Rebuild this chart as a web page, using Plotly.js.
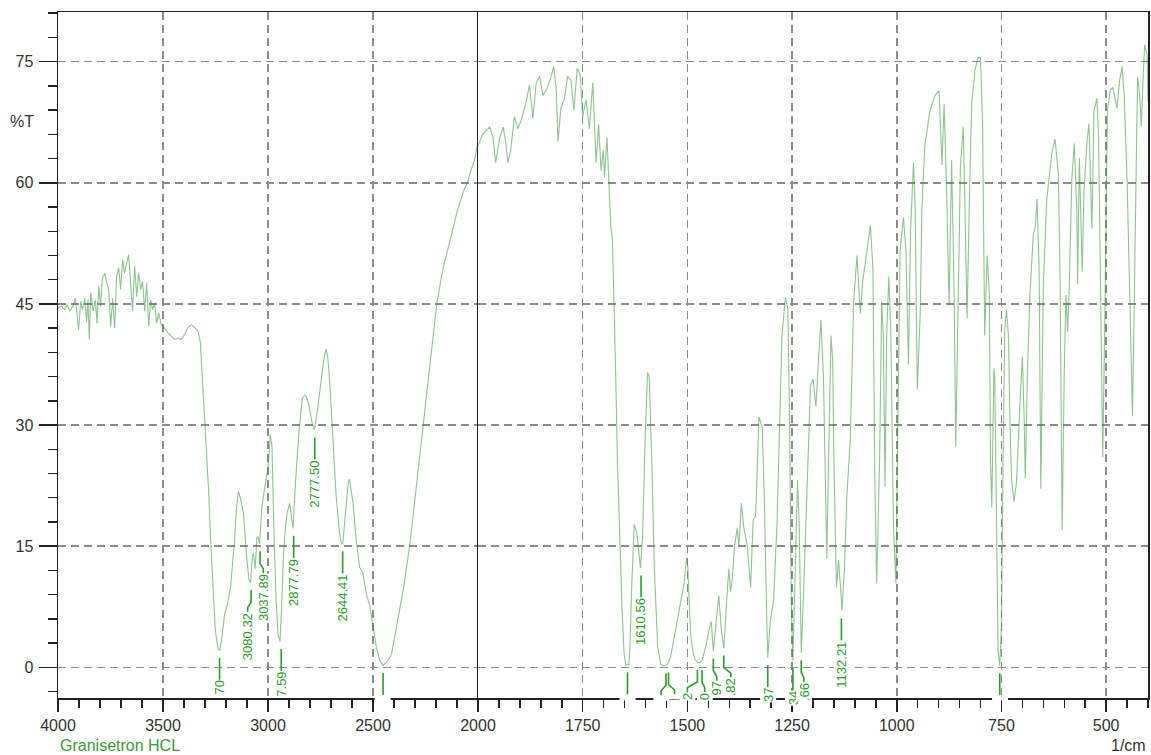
<!DOCTYPE html>
<html><head><meta charset="utf-8">
<script src="https://cdn.plot.ly/plotly-3.0.1.min.js"></script>
<style>html,body{margin:0;padding:0;background:#fff;}#chart{width:1151px;height:755px;}</style>
</head><body><div id="chart"></div>
<script>
// ---- DATA (wavenumber in 1/cm, transmittance in %T) ----
const specWn = [4000,3984,3968,3956,3944,3929,3917,3908,3902,3892,3883,3873,3864,3857,3851,3844,3833,3822,3814,3806,3797,3789,3778,3768,3759,3749,3740,3730,3721,3711,3702,3692,3683,3673,3664,3654,3645,3635,3625,3616,3606,3597,3587,3578,3568,3559,3549,3540,3530,3521,3508,3492,3476,3460,3445,3429,3413,3397,3381,3365,3349,3333,3322,3314,3305,3294,3283,3273,3262,3251,3238,3230,3219,3206,3194,3178,3159,3151,3141,3130,3117,3101,3090,3083,3074,3069,3061,3053,3048,3040,3029,3013,3000,2989,2981,2973,2962,2952,2943,2935,2927,2918,2909,2897,2888,2881,2869,2853,2837,2825,2817,2804,2788,2779,2764,2748,2735,2724,2716,2708,2692,2676,2660,2650,2644,2636,2628,2618,2612,2604,2596,2580,2564,2548,2532,2516,2500,2484,2468,2452,2436,2424,2412,2388,2356,2324,2292,2260,2228,2196,2180,2163,2131,2099,2067,2050,2035,2015,2003,2000,
1988,1972,1964,1958,1948,1940,1934,1929,1922,1913,1905,1897,1886,1877,1869,1861,1853,1845,1836,1828,1819,1813,1809,1802,1794,1786,1778,1771,1763,1756,1750,1742,1734,1726,1718,1712,1706,1701,1698,1692,1687,1683,1679,1675,1671,1667,1663,1656,1651,1647,1640,1637,1633,1627,1621,1614,1612,1607,1601,1595,1591,1585,1579,1571,1563,1555,1548,1540,1528,1516,1508,1502,1499,1496,1492,1487,1482,1476,1470,1464,1456,1448,1443,1438,1430,1425,1419,1413,1406,1401,1397,1393,1387,1381,1377,1371,1365,1357,1349,1343,1337,1333,1329,1321,1316,1311,1308,1302,1294,1286,1279,1274,1266,1260,1256,1252,1248,1243,1237,1233,1228,1222,1214,1206,1200,1193,1187,1181,1175,1167,1161,1157,1153,1150,1144,1139,1133,1131,1125,1119,1111,1103,1095,1087,1081,1071,1063,1057,1052,1048,1041,1036,1032,1028,1024,1019,1014,1008,1002,996,992,984,978,972,967,960,956,951,944,940,933,921,909,899,895,892,887,881,875,869,863,859,853,848,841,837,832,827,821,813,806,800,795,790,784,779,776,773,768,766,762,758,754,750,746,742,738,733,730,726,720,714,706,700,696,693,688,682,674,669,665,660,656,650,642,630,622,614,610,605,600,596,592,588,582,576,570,568,564,560,557,553,546,541,537,534,529,522,518,513,508,502,497,490,484,481,474,468,462,457,450,444,440,437,433,428,425,420,416,412,408,402,400];
const specT = [44.5,44.7,44.3,44.9,44.1,44.7,45.7,43.1,41.8,45.3,44.3,45.7,42.8,45.5,40.6,46.4,44.1,45.5,42.6,47.2,44.7,48.2,48.8,47.6,46.8,42.2,45.7,42.0,48.4,49.5,46.8,50.5,48.8,50.1,51.1,47.6,44.1,49.7,45.9,48.8,46.8,47.8,44.1,47.6,42.2,45.5,44.3,45.1,42.6,43.9,42.4,42.0,41.4,41.0,40.6,40.8,40.6,41.2,42.1,42.4,42.1,41.6,40.2,36.4,32.3,28.2,22.0,15.8,9.6,4.6,2.3,2.1,3.8,6.7,7.7,10.0,15.8,19.5,21.8,20.8,19.1,13.4,10.8,10.5,13.9,14.1,12.2,16.0,16.2,15.3,20.0,22.9,24.8,28.8,27.4,18.1,8.7,4.0,3.2,7.5,13.5,17.0,19.1,20.3,18.1,17.2,22.9,29.0,33.3,33.7,33.5,32.3,30.0,29.4,31.9,35.2,38.0,39.4,38.5,36.1,28.5,21.4,16.7,15.3,15.3,17.5,20.0,22.8,23.3,22.0,20.5,15.8,12.4,11.7,9.1,7.7,4.9,2.5,0.85,0.24,0.6,1.0,1.6,4.9,9.6,15.3,22.9,30.0,38.0,45.1,47.5,49.8,53.1,56.5,59.1,60.0,61.4,63.0,64.7,64.6,
66.1,66.9,65.6,62.5,65.6,66.9,65.1,62.5,64.0,68.2,66.7,67.7,69.8,72.1,68.0,72.4,73.2,70.8,71.6,72.7,74.4,71.4,65.1,69.3,70.3,73.2,72.7,69.0,74.2,73.4,68.2,70.3,66.7,72.4,62.5,67.2,61.5,64.1,60.7,65.6,60.4,54.7,53.1,45.3,35.9,25.5,17.7,7.3,1.6,0.3,0.3,2.6,9.9,17.7,16.7,12.5,12.3,16.1,28.1,36.5,35.9,25.5,12.5,2.6,0.3,0.2,0.3,1.3,4.7,8.3,10.4,13.6,12.5,8.5,4.0,2.0,1.0,0.6,0.6,1.0,2.6,4.7,5.7,2.0,6.3,8.9,4.7,2.4,8.3,12.2,9.4,10.9,15.1,17.2,15.1,20.3,17.2,15.1,9.9,18.2,18.8,25.5,31.0,29.7,20.3,7.3,1.2,5.7,8.3,17.7,30.7,41.1,45.8,44.3,30.7,8.0,0.8,9.9,23.2,17.7,1.8,9.9,22.9,34.9,35.7,32.3,38.0,43.0,35.9,13.5,30.7,41.1,38.0,25.5,9.9,13.3,9.0,7.0,12.0,21.4,28.1,45.3,51.0,43.8,47.9,51.6,54.7,49.5,22.0,10.4,25.5,45.3,41.1,22.4,41.1,48.4,41.1,17.7,10.4,35.9,51.6,55.7,51.6,37.5,54.2,62.5,56.8,34.4,43.8,56.8,64.6,68.8,70.8,71.4,67.2,62.2,69.8,59.4,44.8,62.8,46.4,27.3,46.4,62.0,66.9,56.8,43.2,56.8,69.8,74.0,75.5,75.5,67.2,41.1,51.0,46.4,25.5,19.8,37.0,36.0,17.7,2.1,0.2,5.0,26.0,41.9,44.3,40.8,31.3,23.4,20.5,22.9,32.4,38.5,31.3,23.4,36.6,46.1,53.5,54.6,58.0,49.3,22.1,47.2,57.8,63.6,65.4,61.0,48.3,17.0,36.6,46.1,41.6,47.2,60.4,64.9,56.7,47.5,63.1,56.2,49.0,58.8,64.9,67.3,60.4,54.3,68.9,70.5,65.7,47.2,26.0,47.2,68.9,71.5,71.8,71.0,69.2,72.6,74.4,71.0,60.4,47.2,36.6,31.1,44.6,63.1,73.1,71.0,67.0,72.6,77.1,75.8,70.0];

// peak picks (wavenumber) and the part of each label that is visible in the chart
const peakWn = [3230.70,3080.32,3037.89,2937,2877.79,2777.50,2644.41,2452,1643,1610.56,1551,1545,1476,1465,1438,1413,1308,1248,1228,1132.21,754];
const peakLabel = ["70","3080.32","3037.89","7.59","2877.79","2777.50","2644.41","","","1610.56","","","2","0","97",".82","37","34",".66","1132.21",""];

const xTickLeft = [4000,3500,3000,2500,2000];
const xTickRight = [1750,1500,1250,1000,750,500];
const xRangeLeft = [4000,2000];
const xRangeRight = [2000,400];
const yRange = [-3.8,81.15];

// ---- STYLE / LAYOUT CONSTANTS ----
const W=1151, H=755, M={l:58,r:3,t:12,b:57};
const plotW = W-M.l-M.r, plotH = H-M.t-M.b;
const split = 420/plotW;
const pxPerT = plotH/(yRange[1]-yRange[0]);
const pxPerWnL = plotW*split/(xRangeLeft[0]-xRangeLeft[1]);
const pxPerWnR = plotW*(1-split)/(xRangeRight[0]-xRangeRight[1]);
const labelShiftPx = [0,-3.5,3.3,0,0,0,0,0,0,0,-5,6,-10,2.7,3.4,7,0,0,2.6,0,0];
const MARK = {gapPx:7.5, lenPx:22, color:'#2a9d2a'};
const FONT = 'Liberation Sans, Arial, sans-serif';
const GRID = {gridcolor:'#8c8c8c', gridwidth:1.5, griddash:'8px,5px'};
const LINE = {showline:true, linecolor:'#222', linewidth:1.5};

function localMin(w){
  let best=null;
  for(let i=0;i<specWn.length;i++){
    if(Math.abs(specWn[i]-w)<=6 && (best===null || specT[i]<best)) best=specT[i];
  }
  if(best===null){
    for(let i=0;i<specWn.length-1;i++){
      const a=specWn[i], b=specWn[i+1];
      if((a-w)*(b-w)<=0){ best=specT[i]+(specT[i+1]-specT[i])*(w-a)/(b-a); break; }
    }
  }
  return best;
}

const L={x:[],y:[]}, R={x:[],y:[]};
specWn.forEach((w,i)=>{
  if(w>=2000){L.x.push(w);L.y.push(specT[i]);}
  if(w<=2000){R.x.push(w);R.y.push(specT[i]);}
});

const mL={x:[],y:[]}, mR={x:[],y:[]};
const annotations=[];
const gapT = MARK.gapPx/pxPerT, lenT = MARK.lenPx/pxPerT;
peakWn.forEach((w,i)=>{
  const left = w>2000;
  const ppw = left?pxPerWnL:pxPerWnR;
  const t0 = localMin(w);
  const top = t0-gapT, bot = top-lenT;
  const sw = w - labelShiftPx[i]/ppw;
  const m = left?mL:mR;
  m.x.push(w,w,sw,sw,null);
  m.y.push(top, top-0.55*lenT, top-0.8*lenT, bot, null);
  annotations.push({x:sw, y:bot, xref:left?'x':'x2', yref:left?'y':'y2',
    text:peakLabel[i]||' ', textangle:-90, showarrow:false, xanchor:'center', yanchor:'top',
    font:{family:FONT,size:13,color:MARK.color}, bgcolor:'rgba(255,255,255,1)', borderpad:0});
});

annotations.push({xref:'paper',yref:'paper',x:(22-M.l)/plotW,y:(H-M.b-122)/plotH,text:'%T',showarrow:false,
  xanchor:'center',yanchor:'middle',font:{family:FONT,size:16,color:'#333'}});
annotations.push({xref:'paper',yref:'paper',x:0,y:-(745-(H-M.b))/plotH,text:'Granisetron HCL',showarrow:false,
  xanchor:'left',yanchor:'middle',font:{family:FONT,size:16,color:'#3a9a3a'}});
annotations.push({xref:'paper',yref:'paper',x:1,y:-(745-(H-M.b))/plotH,text:'1/cm',showarrow:false,
  xanchor:'right',yanchor:'middle',font:{family:FONT,size:16,color:'#333'}});

const lineStyle = {color:'rgba(50,150,50,0.55)', width:1.1};
const traces = [
  {x:L.x,y:L.y,xaxis:'x',yaxis:'y',mode:'lines',line:lineStyle,hoverinfo:'skip'},
  {x:R.x,y:R.y,xaxis:'x2',yaxis:'y2',mode:'lines',line:lineStyle,hoverinfo:'skip'},
  {x:mL.x,y:mL.y,xaxis:'x',yaxis:'y',mode:'lines',line:{color:MARK.color,width:1.6},hoverinfo:'skip'},
  {x:mR.x,y:mR.y,xaxis:'x2',yaxis:'y2',mode:'lines',line:{color:MARK.color,width:1.6},hoverinfo:'skip'}
];

const tickFont = {family:FONT,size:16,color:'#333'};
const xCommon = Object.assign({ticks:'outside',ticklen:12,tickwidth:1.5,tickcolor:'#222',showgrid:true,zeroline:false,
  tickfont:tickFont,fixedrange:true,mirror:true}, GRID, LINE);
const layout = {
  width:W,height:H,margin:M,paper_bgcolor:'#fff',plot_bgcolor:'#fff',showlegend:false,
  xaxis:Object.assign({},xCommon,{domain:[0,split],range:xRangeLeft,anchor:'y',tickmode:'array',tickvals:xTickLeft,
    minor:{tickmode:'linear',tick0:0,dtick:100,ticks:'outside',ticklen:8,tickwidth:1.5,tickcolor:'#222',showgrid:false}}),
  xaxis2:Object.assign({},xCommon,{domain:[split,1],range:xRangeRight,anchor:'y2',tickmode:'array',tickvals:xTickRight,
    minor:{tickmode:'linear',tick0:0,dtick:50,ticks:'outside',ticklen:8,tickwidth:1.5,tickcolor:'#222',showgrid:false}}),
  yaxis:Object.assign({range:yRange,anchor:'x',tickmode:'linear',tick0:0,dtick:15,ticks:'outside',ticklen:18,tickwidth:1.5,
    tickcolor:'#222',tickfont:tickFont,showgrid:true,zeroline:false,fixedrange:true,ticklabelstandoff:2,mirror:false,
    minor:{tickmode:'linear',tick0:0,dtick:3,ticks:'outside',ticklen:9,tickwidth:1.5,tickcolor:'#222',showgrid:false}},GRID,LINE),
  yaxis2:Object.assign({range:yRange,anchor:'x2',tickmode:'linear',tick0:0,dtick:15,ticks:'',showticklabels:false,
    showgrid:true,zeroline:false,fixedrange:true,mirror:true},GRID,LINE),
  annotations:annotations
};
Plotly.newPlot('chart',traces,layout,{displayModeBar:false,staticPlot:true});
</script>
</body></html>
